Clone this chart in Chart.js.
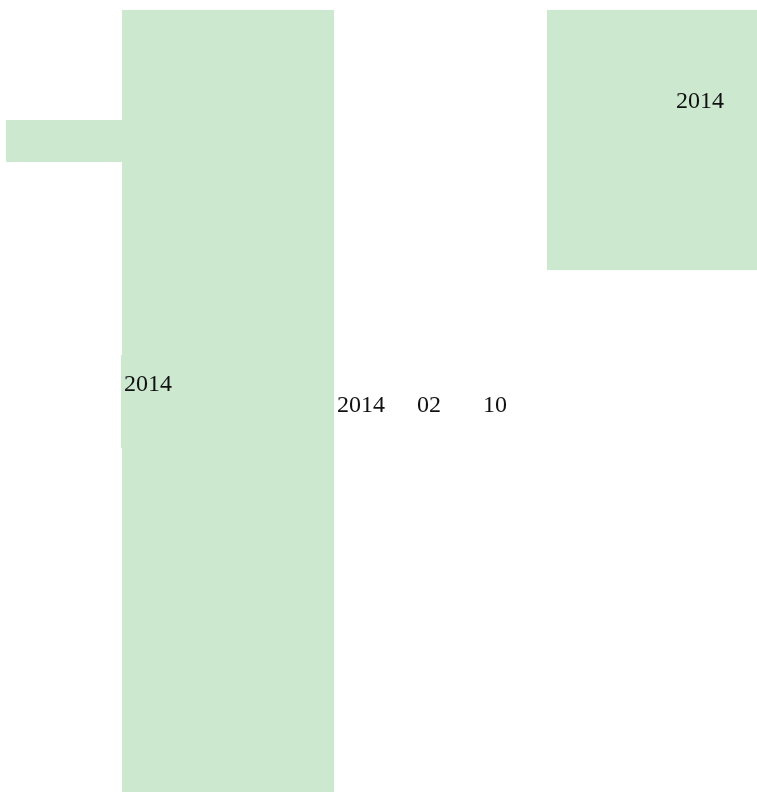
<!DOCTYPE html>
<html>
<head>
<meta charset="utf-8">
<script src="https://cdn.jsdelivr.net/npm/chart.js@4.4.1/dist/chart.umd.min.js"></script>
<style>
    html, body { margin: 0; padding: 0; background: #ffffff; }
    #wrap { width: 757px; height: 792px; }
</style>
</head>
<body>
<div id="wrap"><canvas id="pageChart" width="757" height="792"></canvas></div>
<script>
// rectangles (page units, y grows downward)
const boxLeft   = [122, 6,   547, 121];
const boxRight  = [334, 122, 757, 122];
const boxTop    = [10,  120, 10,  355];
const boxBottom = [792, 162, 270, 448];

// text items
const labelText = ['2014', '2014', '02', '10', '2014'];
const labelX    = [124,    337,    417,  483,  676];
const labelY    = [391,    412,    412,  412,  108];

const fillColor = '#cce8cf';

function rectPoints(i) {
    return [
        { x: boxLeft[i],  y: boxTop[i] },
        { x: boxRight[i], y: boxTop[i] },
        { x: boxRight[i], y: boxBottom[i] },
        { x: boxLeft[i],  y: boxBottom[i] },
        { x: boxLeft[i],  y: boxTop[i] }
    ];
}

const datasets = boxLeft.map((_, i) => ({
    data: rectPoints(i),
    showLine: true,
    fill: 'shape',
    backgroundColor: fillColor,
    borderColor: fillColor,
    borderWidth: 0,
    pointRadius: 0,
    tension: 0
}));

// draws the text items through the scales
const textPlugin = {
    id: 'pageText',
    afterDatasetsDraw(chart) {
        const ctx = chart.ctx;
        const xs = chart.scales.x;
        const ys = chart.scales.y;
        ctx.save();
        ctx.fillStyle = '#111111';
        ctx.font = '24px "Liberation Serif", "DejaVu Serif", serif';
        ctx.textAlign = 'left';
        ctx.textBaseline = 'alphabetic';
        labelText.forEach((t, i) => {
            ctx.fillText(t, xs.getPixelForValue(labelX[i]), ys.getPixelForValue(labelY[i]));
        });
        ctx.restore();
    }
};

new Chart(document.getElementById('pageChart').getContext('2d'), {
    type: 'scatter',
    data: { datasets: datasets },
    options: {
        responsive: false,
        animation: false,
        layout: { padding: 0 },
        plugins: {
            legend: { display: false },
            tooltip: { enabled: false }
        },
        scales: {
            x: { type: 'linear', min: 0, max: 757, display: false },
            y: { type: 'linear', min: 0, max: 792, reverse: true, display: false }
        }
    },
    plugins: [textPlugin]
});
</script>
</body>
</html>
